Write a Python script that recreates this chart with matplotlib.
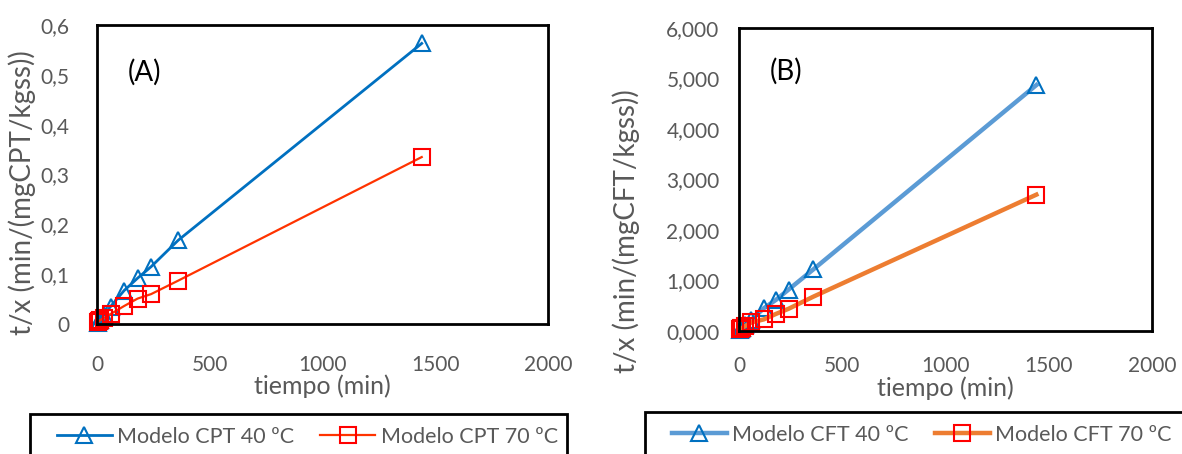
import matplotlib
matplotlib.use("Agg")
import matplotlib.pyplot as plt
from matplotlib.ticker import FuncFormatter, MultipleLocator
from matplotlib.patches import Rectangle

plt.rcParams['font.family'] = ['Lato', 'DejaVu Sans']

tiempo = [5, 10, 15, 30, 60, 120, 180, 240, 360, 1440]
cpt_40 = [0.003, 0.006, 0.009, 0.018, 0.035, 0.067, 0.092, 0.115, 0.168, 0.563]
cpt_70 = [0.004, 0.006, 0.008, 0.012, 0.020, 0.036, 0.051, 0.060, 0.087, 0.335]
cft_40 = [0.02, 0.04, 0.06, 0.12, 0.22, 0.45, 0.62, 0.82, 1.22, 4.87]
cft_70 = [0.03, 0.05, 0.06, 0.10, 0.17, 0.23, 0.34, 0.44, 0.68, 2.70]

W, H = 1182, 454
fig = plt.figure(figsize=(W / 100, H / 100), dpi=100)

GRAY = '#595959'

def px_axes(l, t, r, b):
    return fig.add_axes([l / W, 1 - b / H, (r - l) / W, (b - t) / H])

def style(ax, ylabel, xpad, ypad):
    for s in ax.spines.values():
        s.set_linewidth(2.0)
        s.set_color('black')
    ax.tick_params(length=0, labelsize=15, labelcolor=GRAY)
    ax.tick_params(axis='x', pad=xpad)
    ax.tick_params(axis='y', pad=ypad)
    ax.set_xlim(0, 2000)
    ax.xaxis.set_major_locator(MultipleLocator(500))
    ax.set_xlabel('tiempo (min)', fontsize=18, color=GRAY, labelpad=0)
    ax.set_ylabel(ylabel, fontsize=20, color=GRAY)
    for l in ax.lines:
        l.set_clip_on(False)

def frame_legend(ax, left, top, right, x_text, y_center):
    fig.patches.append(Rectangle((left / W, -0.1), (right - left) / W, 1 - top / H + 0.1,
                                 transform=fig.transFigure, fill=False,
                                 edgecolor='black', linewidth=2.0))
    fig.legend(handles=ax.lines, labels=[l.get_label() for l in ax.lines],
               loc='center left', bbox_to_anchor=(x_text / W, 1 - y_center / H),
               ncol=2, fontsize=15.5, frameon=False, borderpad=0, borderaxespad=0,
               handlelength=2.55, handletextpad=0.25, columnspacing=1.2,
               labelcolor=GRAY)

# Panel A
axA = px_axes(97, 25, 548, 324)
axA.plot(tiempo, cpt_40, color='#0070C0', lw=2.0, marker='^', ms=11,
         mfc='none', mec='#0070C0', mew=1.5, label='Modelo CPT 40 ºC')
axA.plot(tiempo, cpt_70, color='#FF3300', lw=1.6, marker='s', ms=11,
         mfc='none', mec='#FF0000', mew=1.5, label='Modelo CPT 70 ºC')
axA.set_ylim(0, 0.6)
axA.yaxis.set_major_locator(MultipleLocator(0.1))
axA.yaxis.set_major_formatter(FuncFormatter(
    lambda v, p: '0' if abs(v) < 1e-9 else f'{v:.1f}'.replace('.', ',')))
style(axA, 't/x (min/(mgCPT/kgss))', 22, 20)
axA.text(137, 0.505, '(A)', fontsize=20, color='black', ha='left', va='center')
axA.yaxis.set_label_coords((36 - 97) / 451, (324 - 193) / 299)
frame_legend(axA, 30, 414, 567, 57, 437)

# Panel B
axB = px_axes(739, 28, 1152, 331)
axB.plot(tiempo, cft_40, color='#5B9BD5', lw=3.2, marker='^', ms=11,
         mfc='none', mec='#0070C0', mew=1.5, label='Modelo CFT 40 ºC')
axB.plot(tiempo, cft_70, color='#ED7D31', lw=3.2, marker='s', ms=11,
         mfc='none', mec='#FF0000', mew=1.5, label='Modelo CFT 70 ºC')
axB.set_ylim(0, 6)
axB.yaxis.set_major_locator(MultipleLocator(1))
axB.yaxis.set_major_formatter(FuncFormatter(lambda v, p: f'{v:.3f}'.replace('.', ',')))
style(axB, 't/x (min/(mgCFT/kgss))', 18, 14)
axB.text(150, 5.15, '(B)', fontsize=20, color='black', ha='left', va='center')
axB.yaxis.set_label_coords((640 - 739) / 413, (331 - 231) / 303)
frame_legend(axB, 645, 412, 1200, 672, 435)

fig.savefig('out.png', dpi=100)
